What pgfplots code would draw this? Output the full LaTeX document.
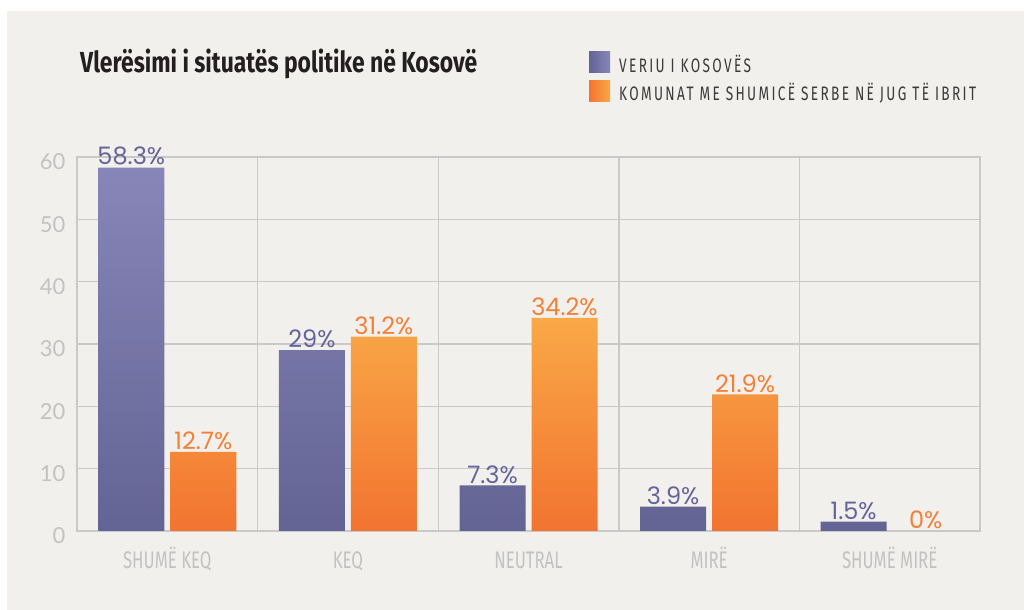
\documentclass[border=0pt]{standalone}
\usepackage{pgfplots}
\pgfplotsset{compat=1.18}
\usepackage{fontspec}
\setmainfont{Lato}
\newfontfamily\titlefont[FakeStretch=0.79]{Fira Sans}
\newfontfamily\catfont[FakeStretch=0.7]{Fira Sans}
\newfontfamily\legfont[FakeStretch=0.7,LetterSpace=12]{Fira Sans}
\newfontfamily\valfont{Poppins}
\definecolor{bg}{HTML}{F1F0EC}
\definecolor{gridc}{HTML}{C9C9C9}
\definecolor{tickc}{HTML}{C2C2C2}
\definecolor{pTop}{HTML}{8886B8}
\definecolor{pBot}{HTML}{636394}
\definecolor{oTop}{HTML}{F9A847}
\definecolor{oBot}{HTML}{F27430}
\definecolor{pText}{HTML}{64639A}
\definecolor{oText}{HTML}{F47F35}
\definecolor{titlec}{HTML}{231F20}
\definecolor{legc}{HTML}{3A3A3A}
\begin{document}
\begin{tikzpicture}
\useasboundingbox (0bp,0bp) rectangle (1024bp,610bp);
\fill[white] (0bp,0bp) rectangle (1024bp,610bp);
\fill[bg] (7bp,0bp) rectangle (1024bp,599bp);
\node[anchor=base west, inner sep=0, text=titlec, font=\titlefont\bfseries\fontsize{29bp}{33bp}\selectfont] at (80bp,537bp) {Vlerësimi i situatës politike në Kosovë};
\shade[left color=pBot, right color=pTop] (589bp,537bp) rectangle (610bp,558bp);
\shade[left color=oBot, right color=oTop] (589bp,508bp) rectangle (610bp,529bp);
\node[anchor=base west, inner sep=0, text=legc, font=\legfont\fontsize{19.5bp}{23bp}\selectfont] at (619bp,537.3bp) {VERIU I KOSOVËS};
\node[anchor=base west, inner sep=0, text=legc, font=\legfont\fontsize{19.5bp}{23bp}\selectfont] at (619bp,509.3bp) {KOMUNAT ME SHUMICË SERBE NË JUG TË IBRIT};
\begin{axis}[
  at={(77bp,79bp)}, anchor=south west,
  scale only axis, width=903bp, height=374bp,
  ybar=6bp, bar width=66bp,
  xmin=-0.5, xmax=4.5, ymin=0, ymax=60,
  ytick={0,10,20,30,40,50,60},
  xtick={0,1,2,3,4},
  xticklabels={SHUMË KEQ,KEQ,NEUTRAL,MIRË,SHUMË MIRË},
  extra x ticks={0.5,1.5,2.5,3.5},
  extra x tick labels={},
  extra x tick style={grid=major},
  ymajorgrids,
  major tick length=0pt,
  axis line style={draw=gridc, line width=1.6bp},
  grid style={draw=gridc, line width=1.4bp},
  /pgf/number format/assume math mode=true,
  yticklabel style={font=\fontsize{22bp}{26bp}\selectfont, text=tickc, xshift=-8bp, yshift=-5bp},
  xticklabel style={font=\catfont\fontsize{24bp}{28bp}\selectfont, text=tickc, anchor=base, yshift=-38bp},
  nodes near coords={\pgfmathprintnumber{\pgfplotspointmeta}\%},
  every node near coord/.append style={font=\valfont\fontsize{24bp}{28bp}\selectfont, anchor=south, inner sep=2bp},
]
\addplot[bar shift=-36bp, draw=none, top color=pTop, bottom color=pBot,
  every node near coord/.append style={text=pText}]
  coordinates {(0,58.3) (1,29) (2,7.3) (3,3.9) (4,1.5)};
\addplot[bar shift=36bp, draw=none, top color=oTop, bottom color=oBot,
  every node near coord/.append style={text=oText}]
  coordinates {(0,12.7) (1,31.2) (2,34.2) (3,21.9)};
\addplot[bar shift=36bp, draw=none, fill=none,
  every node near coord/.append style={text=oText}]
  coordinates {(4,0)};
\end{axis}
\end{tikzpicture}
\end{document}
